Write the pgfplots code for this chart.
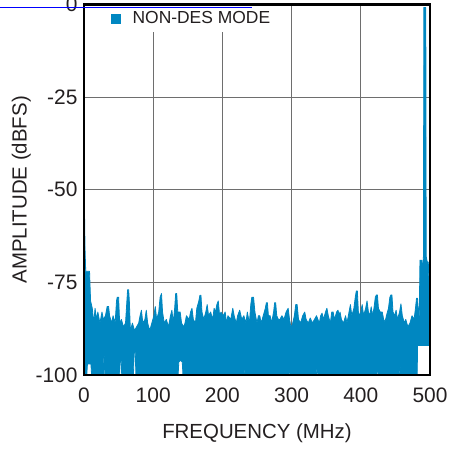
\documentclass[border=0pt]{standalone}
\usepackage{pgfplots}
\pgfplotsset{compat=1.18}
\usepackage{fontspec}
\setmainfont{Liberation Sans}
\definecolor{adiblue}{RGB}{0,135,193}
\definecolor{txt}{RGB}{35,31,32}
\definecolor{gridc}{RGB}{110,110,110}
\begin{document}
\begin{tikzpicture}
\begin{axis}[
  name=ax,
  scale only axis,
  width=346bp, height=370.5bp,
  xmin=0, xmax=500, ymin=-100, ymax=0,
  xtick={0,100,200,300,400,500},
  ytick={-100,-75,-50,-25,0},
  grid=major,
  major grid style={line width=1bp, color=gridc},
  axis line style={line width=2.5bp, black},
  tick style={draw=none},
  /pgf/number format/assume math mode=true,
  ticklabel style={font=\fontsize{21}{23}\selectfont, text=txt},
  xticklabel style={yshift=-9bp},
  yticklabel style={xshift=-3bp},
  xlabel={FREQUENCY (MHz)},
  ylabel={AMPLITUDE (dBFS)},
  label style={font=\fontsize{20.5}{22}\selectfont, text=txt},
  xlabel style={yshift=-15bp},
  ylabel style={yshift=-2bp},
  legend style={at={(0.046,1)}, anchor=north west, draw=none, fill=white,
    font=\fontsize{17.5}{19}\selectfont, text=txt, inner xsep=3.5bp, inner ysep=5bp},
  legend cell align=left,
  legend image code/.code={\fill[adiblue, draw=none] (7.5bp,-5bp) rectangle (17.5bp,5bp); \path[draw=none, fill=none] (0bp,0bp) -- (27bp,0bp);},
]
\addplot[fill=adiblue, draw=adiblue, line width=0.8bp, line join=round] coordinates {
(0,-57) (0.8,-57) (1.5,-66) (2.5,-72) (8,-72) (9.5,-80) (12,-82) (14,-86) (16,-82) (18,-85) (20,-83) (23,-86) (26,-83) (28,-85) (31,-84) (33.5,-81.5) (35.5,-81.5) (37,-84) (40,-86) (42,-84) (45,-86) (47,-80) (48,-79) (50,-79) (51.5,-86) (54,-85) (57,-87) (60,-86) (62,-80) (63,-77) (64.5,-77) (65.5,-80) (67,-88) (70,-86) (73,-88) (76,-87) (79,-86) (81,-84) (83,-82.5) (85,-86) (88,-85) (90,-82.5) (92,-86) (95,-88) (98,-86) (101,-84) (103,-81.5) (105,-85) (108,-83) (110,-79) (112,-78) (113.5,-83) (116,-86) (119,-85) (122,-87) (125,-84) (127,-82.5) (129,-86) (131,-82) (132.5,-78) (134,-78) (135.5,-83) (139,-83) (141,-86) (144,-87) (146,-86) (148,-84) (152,-85) (154,-83) (156,-82) (158,-85) (161,-86) (163,-82) (166,-80) (167.5,-78.5) (169,-78.5) (170.5,-83) (173,-85) (176,-83) (178,-81) (180,-84) (183,-83) (186,-85) (188,-82) (190,-83) (192,-81) (194,-80) (196,-84) (198,-83) (201,-84) (204,-83) (206,-86) (208,-84) (212,-85) (215,-82) (217,-84) (220,-86) (222,-84) (225,-82.5) (228,-85) (231,-84) (234,-86) (236,-83) (239,-86) (241,-81) (242.5,-79) (245,-79) (247,-83) (250,-86) (252,-84) (254,-84) (256,-86) (259,-84) (262,-82) (263.5,-80.5) (265,-80.5) (266.5,-84) (269,-84) (271,-86) (274,-83) (275.5,-80.5) (277,-80.5) (278.5,-84) (281,-85) (283,-85) (286,-84) (289,-85) (292,-83) (295,-82) (297,-85) (299,-87) (301,-86.5) (304,-84) (306,-81) (308,-81) (310,-85) (313,-86) (316,-84) (319,-83) (321,-85) (324,-86) (327,-84.6) (330,-86) (333,-85) (336,-84) (340,-86) (342,-84) (344,-83.3) (346,-85) (349,-83) (351,-82) (353,-84) (356,-86) (358,-83) (360,-83) (362,-85) (365,-83) (367,-82.5) (369,-84) (370,-83) (372,-85) (375,-86) (378,-84) (380,-86) (383,-83) (385,-81) (387,-84) (390,-82) (392,-79) (393.5,-77.3) (395,-77.3) (396.5,-83) (399,-84) (402,-81) (404,-84) (407,-82) (409,-80) (411,-83) (413,-84) (415,-81.6) (417,-84) (419,-82) (421,-79) (422.5,-78.4) (424,-78.4) (425.5,-82) (428,-83) (431,-83) (433,-85) (435,-85.7) (437,-84) (440,-82) (442,-79) (443.5,-78.4) (445,-78.4) (446.5,-83) (449,-84) (451,-82.5) (453,-85) (456,-83) (458,-80.8) (460,-84) (463,-86) (465,-85) (468,-87) (471,-86) (474,-84) (477,-85) (479,-82) (480.5,-79.3) (482,-79.3) (483.5,-84) (484.5,-84) (485.5,-69) (488,-69) (489,-72) (490.5,-68) (491.1,-0.8) (493.9,-0.8) (494.5,-68) (496,-69.5) (497.5,-69.5) (498.5,-75) (500,-75)
(500,-92) (482,-92) (481.5,-100) (458,-100) (457.5,-98) (456.5,-98) (456,-100) (425,-100) (424.5,-98) (423.5,-98) (423,-100) (338,-100) (337.3,-97) (336.7,-97) (336,-100) (298,-100) (297.3,-97) (296.7,-97) (296,-100) (234,-100) (233.3,-97) (232.7,-97) (232,-100) (143,-100) (142,-96.5) (139.5,-96) (137,-96.5) (136,-100) (75,-100) (74,-93.5) (72.5,-93.5) (71.5,-100) (54.5,-100) (53.8,-96) (52.3,-96) (51.5,-100) (30,-100) (29.4,-95) (28.6,-95) (28,-100) (11,-100) (10,-97) (5,-97) (4,-100) (0,-100)
};
\addlegendentry{NON-DES MODE}
\end{axis}
\draw[line width=2.5bp] (ax.south west) rectangle (ax.north east);
\draw[line width=1bp, color=blue] ([xshift=-84bp,yshift=-3.5bp]ax.north west) -- ([xshift=168bp,yshift=-3.5bp]ax.north west);
\pgfresetboundingbox
\useasboundingbox ([xshift=-84bp,yshift=-74bp]ax.south west) rectangle ([xshift=20bp,yshift=4.5bp]ax.north east);
\end{tikzpicture}
\end{document}
